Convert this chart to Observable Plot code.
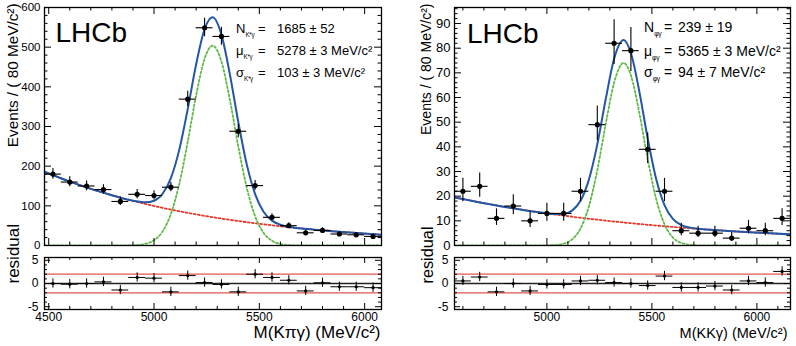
<!DOCTYPE html>
<html><head><meta charset="utf-8">
<script src="https://cdn.jsdelivr.net/npm/d3@7"></script>
<script src="https://cdn.jsdelivr.net/npm/@observablehq/plot@0.6"></script>
<style>
body{margin:0;background:#fff;}
#root{position:relative;width:796px;height:346px;overflow:hidden;font-family:"Liberation Sans",Arial,Helvetica,sans-serif;}
</style></head><body><div id="root"></div>
<script>
// ---------------- DATA ----------------
const binWidth = 80;
// Left panel: B -> K* gamma
const leftCenters = [4520,4600,4680,4760,4840,4920,5000,5080,5160,5240,5320,5400,5480,5560,5640,5720,5800,5880,5960,6040];
const leftCounts  = [180,160,150,141,111,129,126,147,369,549,527,288,151,71,50,32,38,29,27,23];
const leftResid   = [0,-0.15,0,0.35,-1.4,1.3,1.15,-1.8,1.7,0.2,-0.2,-1.8,2.0,1.3,0.7,-1.6,0.15,-0.7,-0.7,-0.9];
const leftCurveX  = [4480,4600,4800,4900,4960,5000,5040,5080,5120,5160,5200,5240,5278,5320,5360,5400,5440,5480,5520,5560,5600,5660,5760,5900,6080];
const leftSignal  = [0,0,0,0.6,4.3,13.2,34.9,79.5,155.4,261.5,378.4,470.8,504,463.8,367.1,249.9,146.3,73.7,31.9,11.9,3.8,0.5,0,0,0];
const leftBkg     = [186,161.1,126.7,112.4,104.6,99.7,95.0,90.5,86.3,82.2,78.4,74.7,71.4,67.9,64.7,61.7,58.8,56.0,53.4,50.9,48.5,45.1,40.0,33.8,27.3];
const leftStats   = [["N","K*γ","1685 ± 52"],["μ","K*γ","5278 ± 3 MeV/c²"],["σ","K*γ","103 ± 3 MeV/c²"]];

// Right panel: Bs -> phi gamma
const rightCenters = [4600,4680,4760,4840,4920,5000,5080,5160,5240,5320,5400,5480,5560,5640,5720,5800,5880,5960,6040,6120];
const rightCounts  = [22,24,11,16,10,13,13,22,49,82,79,39,22,6,5,5,3,7,6,11];
const rightResid   = [0.55,1.4,-1.8,0,-1.6,-0.2,-0.2,0.55,0.7,0.2,0,-0.45,1.6,-0.85,-0.85,-0.55,-1.4,0.55,0.2,2.6];
const rightCurveX  = [4560,4800,4960,5040,5080,5120,5160,5200,5240,5280,5320,5365,5400,5440,5480,5520,5560,5600,5640,5700,5760,5900,6160];
const rightSignal  = [0,0,0,0.19,0.75,2.48,6.86,15.86,30.56,49.2,66.0,74,69.0,53.8,35.0,19.0,8.6,3.25,1.02,0.13,0,0,0];
const rightBkg     = [19.5,15.65,13.52,12.56,12.11,11.67,11.26,10.85,10.46,10.08,9.72,9.33,9.03,8.71,8.39,8.09,7.80,7.52,7.25,6.86,6.50,5.72,4.50];
const rightStats   = [["N","φγ","239 ± 19"],["μ","φγ","5365 ± 3 MeV/c²"],["σ","φγ","94 ± 7 MeV/c²"]];

// Axis ticks / labels
const leftXMajor  = [4500,5000,5500,6000];
const rightXMajor = [5000,5500,6000];
const leftYMajor  = [0,100,200,300,400,500,600];
const rightYMajor = [0,10,20,30,40,50,60,70,80,90];
const residYMajor = [-5,0,5];
const residBands  = [-2,2];
const yTitle = "Events / ( 80 MeV/c²)";
const residTitle = "residual";
const leftXTitle = "M(Kπγ) (MeV/c²)";
const rightXTitle = "M(KKγ) (MeV/c²)";
const brand = "LHCb";

// ---------------- DRAWING ----------------
const FONT = '"Liberation Sans", Arial, Helvetica, sans-serif';
const BLUE = "#2456a6", RED = "#e5372b", GREEN = "#5fba46", BAND = "#e4554a";
const root = document.getElementById("root");

function addAbs(el, left, top) {
  el.style.position = "absolute";
  el.style.left = left + "px";
  el.style.top = top + "px";
  el.style.overflow = "visible";
  root.appendChild(el);
}

function frameTicks(xMajor, xMinor, yMajor, yMinor, iw, ih, lxMaj, lxMin, lyMaj, lyMin) {
  const s = {stroke: "#000", strokeWidth: 1};
  return [
    Plot.tickX(xMajor, {x: d => d, insetTop: ih - lxMaj, ...s}),
    Plot.tickX(xMajor, {x: d => d, insetBottom: ih - lxMaj, ...s}),
    Plot.tickX(xMinor, {x: d => d, insetTop: ih - lxMin, ...s}),
    Plot.tickX(xMinor, {x: d => d, insetBottom: ih - lxMin, ...s}),
    Plot.tickY(yMajor, {y: d => d, insetRight: iw - lyMaj, ...s}),
    Plot.tickY(yMajor, {y: d => d, insetLeft: iw - lyMaj, ...s}),
    Plot.tickY(yMinor, {y: d => d, insetRight: iw - lyMin, ...s}),
    Plot.tickY(yMinor, {y: d => d, insetLeft: iw - lyMin, ...s})
  ];
}

function minorTicks(lo, hi, step, majors) {
  return d3.range(Math.ceil(lo / step) * step, hi + 1e-9, step).filter(v => !majors.includes(v));
}

function mainPanel(o) {
  const iw = o.width - o.mL - o.mR, ih = o.height - o.mT - o.mB;
  const pts = o.centers.map((x, i) => {
    const n = o.counts[i], s = Math.sqrt(n + 0.25);
    return {x, n, lo: n + 0.5 - s, hi: n + 0.5 + s};
  });
  const cv = o.curveX.map((x, i) => ({x, s: o.sig[i], b: o.bkg[i], t: o.sig[i] + o.bkg[i]}));
  const xMinor = minorTicks(o.xDomain[0], o.xDomain[1], 100, o.xMajor);
  const yMinor = minorTicks(o.yDomain[0], o.yDomain[1], o.yMinorStep, o.yMajor);
  return Plot.plot({
    width: o.width, height: o.height,
    marginLeft: o.mL, marginRight: o.mR, marginTop: o.mT, marginBottom: o.mB,
    style: {fontFamily: FONT, fontSize: o.tickFont + "px", background: "transparent", overflow: "visible", color: "#000"},
    x: {domain: o.xDomain, axis: null},
    y: {domain: o.yDomain, axis: null},
    marks: [
      Plot.line(cv, {x: "x", y: "b", stroke: RED, strokeWidth: 1.8, strokeDasharray: "2,2.2", curve: "monotone-x", clip: true}),
      Plot.line(cv, {x: "x", y: "s", stroke: GREEN, strokeWidth: 1.8, strokeDasharray: "2,2.2", curve: "monotone-x", clip: true}),
      Plot.line(cv, {x: "x", y: "t", stroke: BLUE, strokeWidth: 2, curve: "monotone-x", clip: true}),
      Plot.ruleY(pts, {y: "n", x1: d => d.x - binWidth / 2, x2: d => d.x + binWidth / 2, stroke: "#000", strokeWidth: 1.1}),
      Plot.ruleX(pts, {x: "x", y1: "lo", y2: "hi", stroke: "#000", strokeWidth: 1.1}),
      Plot.dot(pts, {x: "x", y: "n", r: 2.6, fill: "#000", stroke: null}),
      ...frameTicks(o.xMajor, xMinor, o.yMajor, yMinor, iw, ih, 7, 3.5, 7, 3.5),
      Plot.frame({stroke: "#000", strokeWidth: 1.3}),
      Plot.text(o.yMajor, {y: d => d, frameAnchor: "left", dx: -4, textAnchor: "end", text: d => String(d), fill: "#000"}),
      Plot.text([yTitle], {frameAnchor: "top-left", text: d => d, rotate: -90, textAnchor: "end", dx: o.yTitleDx, dy: o.yTitleDy, fontSize: o.yTitleFont, fill: "#000"}),
      Plot.text([brand], {frameAnchor: "top-left", text: d => d, textAnchor: "start", lineAnchor: "top", dx: o.brandDx, dy: o.brandDy, fontSize: 28, fill: "#000"})
    ]
  });
}

function residPanel(o) {
  const iw = o.width - o.mL - o.mR, ih = o.height - o.mT - o.mB;
  const pts = o.centers.map((x, i) => ({x, r: o.resid[i]}));
  const xMinor = minorTicks(o.xDomain[0], o.xDomain[1], 100, o.xMajor);
  const yMinor = minorTicks(-5, 5, 1, residYMajor);
  return Plot.plot({
    width: o.width, height: o.height,
    marginLeft: o.mL, marginRight: o.mR, marginTop: o.mT, marginBottom: o.mB,
    style: {fontFamily: FONT, fontSize: "12px", background: "transparent", overflow: "visible", color: "#000"},
    x: {domain: o.xDomain, axis: null},
    y: {domain: [-5.6, 5.6], axis: null},
    marks: [
      Plot.ruleY(residBands, {stroke: BAND, strokeWidth: 1.2}),
      Plot.ruleY([0], {stroke: "#222", strokeWidth: 1.3}),
      Plot.ruleY(pts, {y: "r", x1: d => d.x - binWidth / 2, x2: d => d.x + binWidth / 2, stroke: "#000", strokeWidth: 1}),
      Plot.ruleX(pts, {x: "x", y1: d => d.r - 1, y2: d => d.r + 1, stroke: "#000", strokeWidth: 1}),
      Plot.dot(pts, {x: "x", y: "r", r: 1.6, fill: "#000", stroke: null}),
      ...frameTicks(o.xMajor, xMinor, residYMajor, yMinor, iw, ih, 6, 3, 6, 3),
      Plot.frame({stroke: "#000", strokeWidth: 1.3}),
      Plot.text(residYMajor, {y: d => d, frameAnchor: "left", dx: -6, textAnchor: "end", text: d => String(d), fill: "#000"}),
      Plot.text(o.xMajor, {x: d => d, frameAnchor: "bottom", dy: 11, text: d => String(d), fill: "#000"}),
      Plot.text([residTitle], {frameAnchor: "left", text: d => d, rotate: -90, dx: o.rTitleDx, fontSize: o.rTitleFont, fill: "#000"}),
      Plot.text([o.xTitle], {frameAnchor: "bottom-right", text: d => d, textAnchor: "end", dx: o.xTitleDx, dy: 28, fontSize: o.xTitleFont, fill: "#000"})
    ]
  });
}

// Left
addAbs(mainPanel({
  width: 398, height: 250, mL: 44, mR: 17, mT: 7, mB: 5,
  xDomain: [4480, 6080], yDomain: [0, 600], xMajor: leftXMajor, yMajor: leftYMajor, yMinorStep: 20,
  centers: leftCenters, counts: leftCounts, curveX: leftCurveX, sig: leftSignal, bkg: leftBkg,
  tickFont: 11.5, yTitleDx: -37, yTitleDy: -4, yTitleFont: 15.3, brandDx: 11, brandDy: 15
}), 0, 0);
addAbs(residPanel({
  width: 398, height: 96, mL: 44, mR: 17, mT: 7, mB: 37,
  xDomain: [4480, 6080], xMajor: leftXMajor, centers: leftCenters, resid: leftResid,
  rTitleDx: -31, rTitleFont: 17, xTitle: leftXTitle, xTitleDx: -1, xTitleFont: 17
}), 0, 250);

// Right
addAbs(mainPanel({
  width: 398, height: 250, mL: 56, mR: 6, mT: 7, mB: 5,
  xDomain: [4560, 6160], yDomain: [0, 96.5], xMajor: rightXMajor, yMajor: rightYMajor, yMinorStep: 2,
  centers: rightCenters, counts: rightCounts, curveX: rightCurveX, sig: rightSignal, bkg: rightBkg,
  tickFont: 13, yTitleDx: -33, yTitleDy: -4, yTitleFont: 14, brandDx: 12.5, brandDy: 16
}), 398, 0);
addAbs(residPanel({
  width: 398, height: 96, mL: 56, mR: 6, mT: 7, mB: 37,
  xDomain: [4560, 6160], xMajor: rightXMajor, centers: rightCenters, resid: rightResid,
  rTitleDx: -27, rTitleFont: 16.3, xTitle: rightXTitle, xTitleDx: -3, xTitleFont: 14.5
}), 398, 250);

// Fit-result annotations (with subscripts)
const ov = d3.create("svg").attr("width", 796).attr("height", 346)
  .style("font-family", FONT).style("pointer-events", "none");
function stats(rows, xSym, xEq, xVal, baselines, fs, subFs) {
  rows.forEach((r, i) => {
    const t = ov.append("text").attr("x", xSym).attr("y", baselines[i]).attr("font-size", fs);
    t.append("tspan").text(r[0]);
    t.append("tspan").attr("font-size", subFs).attr("dy", fs * 0.3).attr("letter-spacing", -0.3).text(r[1]);
    ov.append("text").attr("x", xEq).attr("y", baselines[i]).attr("font-size", fs).text("=");
    ov.append("text").attr("x", xVal).attr("y", baselines[i]).attr("font-size", fs).text(r[2]);
  });
}
stats(leftStats, 236, 258, 277, [33, 55, 77], 13, 6.3);
stats(rightStats, 644, 664, 678, [32, 56, 77], 14, 6.8);
addAbs(ov.node(), 0, 0);
</script></body></html>
